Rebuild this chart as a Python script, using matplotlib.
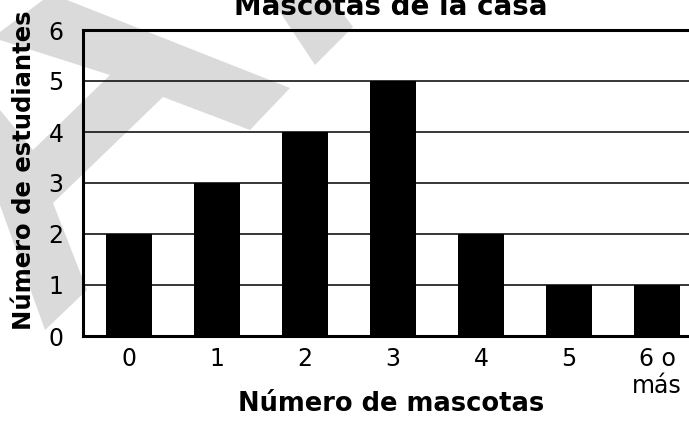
import matplotlib
matplotlib.use("Agg")
import matplotlib.pyplot as plt
from matplotlib.patches import Polygon
import numpy as np

# data
categories = ["0", "1", "2", "3", "4", "5", "6 o\nmás"]
students = [2, 3, 4, 5, 2, 1, 1]
yticks = [0, 1, 2, 3, 4, 5, 6]

W, H = 689, 425
plt.rcParams['font.family'] = 'DejaVu Sans'
fig = plt.figure(figsize=(W / 100, H / 100), dpi=100)

# light grey watermark behind the chart (pixel coords, y down)
wm_shapes = [
    [(43, 0), (67, 0), (290, 88), (250, 130), (163, 97), (53, 203), (87, 290),
     (45, 330), (0, 205), (0, 110), (33, 150), (110, 75), (0, 40), (0, 32)],
    [(272, 0), (333, 0), (353, 27), (315, 65)],
]
for pts in wm_shapes:
    poly = Polygon([(x / W, 1 - y / H) for x, y in pts], closed=True,
                   transform=fig.transFigure, facecolor="#dadada",
                   edgecolor="none", zorder=-1)
    fig.add_artist(poly)

ax = fig.add_axes([83 / W, 1 - 336 / H, 1 - 83 / W, (336 - 30) / H])
ax.patch.set_facecolor("none")

x = np.arange(len(categories))
ax.bar(x, students, width=0.523, color="black", zorder=3)

ax.set_ylim(0, 6)
ax.set_xlim(-0.523, 6.364)
ax.set_yticks(yticks)
ax.set_xticks(x)
ax.set_xticklabels(categories, fontsize=17, linespacing=1.15)
ax.set_yticklabels([str(v) for v in yticks], fontsize=17)
ax.tick_params(axis="y", length=0, pad=14)
ax.tick_params(axis="x", length=0, pad=8)

ax.yaxis.grid(True, color="black", linewidth=1.1, zorder=1)
ax.set_axisbelow(True)
ax.spines["right"].set_visible(False)
for s in ["left", "bottom", "top"]:
    ax.spines[s].set_linewidth(2.2)

# title sits partly above the top edge, as in the reference
fig.text(391 / W, 1 - 15 / H, "Mascotas de la casa", fontsize=20,
         fontweight="bold", ha="center", va="baseline")
fig.text(391 / W, 1 - 411 / H, "Número de mascotas", fontsize=18.5,
         fontweight="bold", ha="center", va="baseline")
fig.text(24 / W, 1 - 170 / H, "Número de estudiantes", fontsize=17.5,
         fontweight="bold", rotation=90, ha="center", va="center")

fig.savefig("out.png", dpi=100)
